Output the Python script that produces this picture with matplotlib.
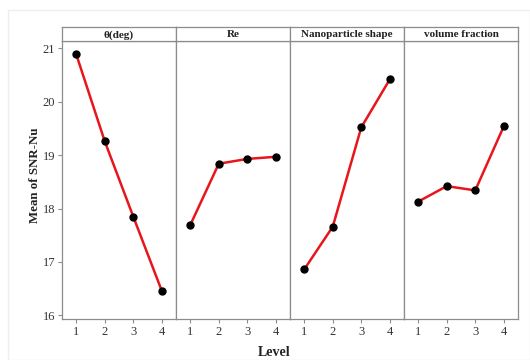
import matplotlib
matplotlib.use("Agg")
import matplotlib.pyplot as plt
from matplotlib.patches import Rectangle

plt.rcParams['font.family'] = ['Liberation Serif', 'DejaVu Serif']

# main effects plot for means of SNR
levels = [1, 2, 3, 4]
factors = ["\u03b8(deg)", "Re", "Nanoparticle shape", "volume fraction"]
theta_mean = [20.89, 19.26, 17.85, 16.46]
re_mean = [17.69, 18.84, 18.93, 18.97]
shape_mean = [16.86, 17.66, 19.52, 20.42]
vf_mean = [18.13, 18.42, 18.34, 19.54]
means = [theta_mean, re_mean, shape_mean, vf_mean]
yticks = [16, 17, 18, 19, 20, 21]

fig = plt.figure(figsize=(5.3, 3.6), dpi=100)

# faint frame round the whole picture
fig.patches.append(Rectangle((0.015, 0.0), 0.985, 0.972, transform=fig.transFigure,
                             fill=False, edgecolor="#eeeeee", linewidth=1))

left = 62 / 530
width = 114 / 530
bottom = 1 - 319 / 360
height = (319 - 41) / 360
strip_h = 14 / 360
frame = "#8c8c8c"

for i, (name, vals) in enumerate(zip(factors, means)):
    ax = fig.add_axes([left + i * width, bottom, width, height])
    ax.plot(levels, vals, color="#e8151b", linewidth=1.8, zorder=2)
    ax.plot(levels, vals, "o", color="black", markersize=5, zorder=3)
    ax.set_xlim(0.5, 4.5)
    ax.set_ylim(15.93, 21.14)
    ax.set_xticks(levels)
    ax.set_yticks(yticks)
    for s in ax.spines.values():
        s.set_color(frame)
        s.set_linewidth(0.9)
    ax.tick_params(axis="both", colors=frame, length=3, width=0.8, labelsize=9,
                   labelcolor="#333333", pad=2)
    if i > 0:
        ax.tick_params(axis="y", left=False, labelleft=False)

    st = fig.add_axes([left + i * width, bottom + height, width, strip_h])
    st.set_xticks([])
    st.set_yticks([])
    for s in st.spines.values():
        s.set_color(frame)
        s.set_linewidth(0.9)
    st.text(0.5, 0.45, name, ha="center", va="center", fontsize=8,
            fontweight="bold", color="#222222", transform=st.transAxes)

fig.text(35 / 530, 1 - 175 / 360, "Mean of SNR-Nu", rotation=90, ha="center",
         va="center", fontsize=9.3, fontweight="bold", color="#222222")
fig.text(274 / 530, 1 - 352 / 360, "Level", ha="center", va="center",
         fontsize=10, fontweight="bold", color="#222222")

fig.savefig("out.png", dpi=100)
